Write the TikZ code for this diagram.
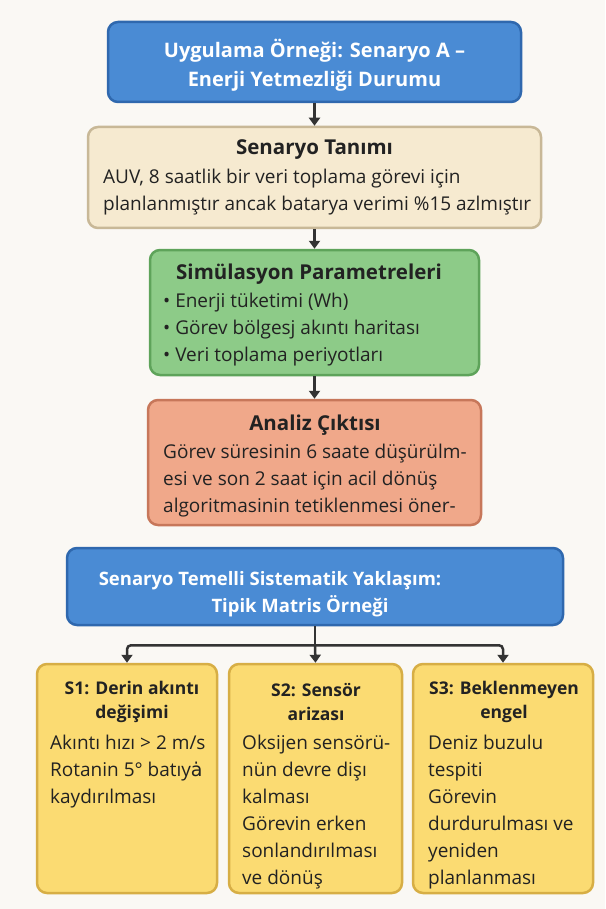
\documentclass[tikz,border=0pt]{standalone}
\usepackage{fontspec}
\setmainfont{Open Sans}
\newfontfamily\dejavu{DejaVu Sans}
\usetikzlibrary{arrows.meta}
\definecolor{bgc}{HTML}{FAF8F4}
\definecolor{bluef}{HTML}{4A8BD4}
\definecolor{blued}{HTML}{2F68AE}
\definecolor{beigef}{HTML}{F6EAD0}
\definecolor{beiged}{HTML}{C8B897}
\definecolor{greenf}{HTML}{8DCB88}
\definecolor{greend}{HTML}{5EA35A}
\definecolor{salmf}{HTML}{F0A88A}
\definecolor{salmd}{HTML}{C7775A}
\definecolor{yelf}{HTML}{FBDB72}
\definecolor{yeld}{HTML}{D7AE45}
\definecolor{txt}{HTML}{222222}
\definecolor{arrc}{HTML}{333333}
\tikzset{
  box/.style={draw, line width=2.5pt, rounded corners=10pt, inner sep=0pt},
  txtn/.style={inner sep=0pt, text=txt, font=\fontsize{19}{27}\selectfont},
  ttl/.style={inner sep=0pt, text=txt, font=\fontsize{20.5}{27}\selectfont\bfseries},
  wttl/.style={inner sep=0pt, text=white, font=\fontsize{20}{29}\selectfont\bfseries, align=center},
  sttl/.style={inner sep=0pt, text=txt, font=\fontsize{17.5}{24}\selectfont\bfseries, align=center},
  arr/.style={draw=arrc, line width=2.5pt, -{Triangle[length=8pt,width=11pt]}},
}
\begin{document}
\begin{tikzpicture}[x=1pt,y=-1pt]
\useasboundingbox[fill=bgc] (0,0) rectangle (605,909);
% boxes
\node[box, draw=blued, fill=bluef, minimum width=413pt, minimum height=80pt] (b1) at (314.5,62) {};
\node[box, draw=beiged, fill=beigef, minimum width=453pt, minimum height=101pt] (b2) at (314.5,177.5) {};
\node[box, draw=greend, fill=greenf, minimum width=329pt, minimum height=125pt] (b3) at (314.5,312.5) {};
\node[box, draw=salmd, fill=salmf, minimum width=333pt, minimum height=125pt] (b4) at (314.5,462.5) {};
\node[box, draw=blued, fill=bluef, minimum width=496pt, minimum height=77pt] (b5) at (315,586.5) {};
\node[box, draw=yeld, fill=yelf, minimum width=180pt, minimum height=229pt] (s1) at (127,778.5) {};
\node[box, draw=yeld, fill=yelf, minimum width=173pt, minimum height=229pt] (s2) at (315.5,778.5) {};
\node[box, draw=yeld, fill=yelf, minimum width=180pt, minimum height=229pt] (s3) at (503,778.5) {};
% texts
\node[wttl] (t1) at (314.5,65) {Uygulama Örneği: Senaryo A –\\Enerji Yetmezliği Durumu};
\node[ttl] (t2a) at (314.5,150) {Senaryo Tanımı};
\node[txtn, anchor=north west, align=left] (t2b) at (103,169) {AUV, 8 saatlik bir veri toplama görevi için\\planlanmıştır ancak batarya verimi \%15 azlmıştır};
\node[ttl, anchor=west] (t3a) at (176,274) {Simülasyon Parametreleri};
\node[txtn, anchor=north west, align=left] (t3b) at (163,293) {• Enerji tüketimi (Wh)\\• Görev bölgesj akıntı haritası\\• Veri toplama periyotları};
\node[ttl] (t4a) at (315,425) {Analiz Çıktısı};
\node[txtn, anchor=north west, align=left] (t4b) at (163,444) {Görev süresinin 6 saate düşürülm-\\esi ve son 2 saat için acil dönüş\\algoritmasinin tetiklenmesi öner-};
\node[wttl, font=\fontsize{18.5}{27}\selectfont\bfseries] (t5) at (270,594) {Senaryo Temelli Sistematik Yaklaşım:\\\hspace*{60pt}Tipik Matris Örneği};
\node[sttl] (s1a) at (132,702) {S1: Derin akıntı\\değişimi};
\node[txtn, anchor=north west, align=left] (s1b) at (50,735) {Akıntı hızı > 2 m/s\\Rotanin 5° batıy{\dejavu ȧ}\\kaydırılması};
\node[sttl] (s2a) at (316,702) {S2: Sensör\\arizası};
\node[txtn, anchor=north west, align=left] (s2b) at (242,735) {Oksijen sensörü-\\nün devre dişı\\kalması\\Görevin erken\\sonlandırılması\\ve dönüş};
\node[sttl] (s3a) at (504,702) {S3: Beklenmeyen\\engel};
\node[txtn, anchor=north west, align=left] (s3b) at (428,735) {Deniz buzulu\\tespiti\\Görevin\\durdurulması ve\\yeniden\\planlanması};
% connectors
\draw[arr] (b1.south) -- (b2.north);
\draw[arr] (b2.south) -- (b3.north);
\draw[arr] (b3.south) -- (b4.north);
\draw[draw=arrc, line width=2.5pt] (b5.south) -- ++(0,19) coordinate (j);
\draw[arr, rounded corners=4pt] (j) -| (s1.north);
\draw[arr] (j) -- (s2.north);
\draw[arr, rounded corners=4pt] (j) -| (s3.north);
\end{tikzpicture}
\end{document}
